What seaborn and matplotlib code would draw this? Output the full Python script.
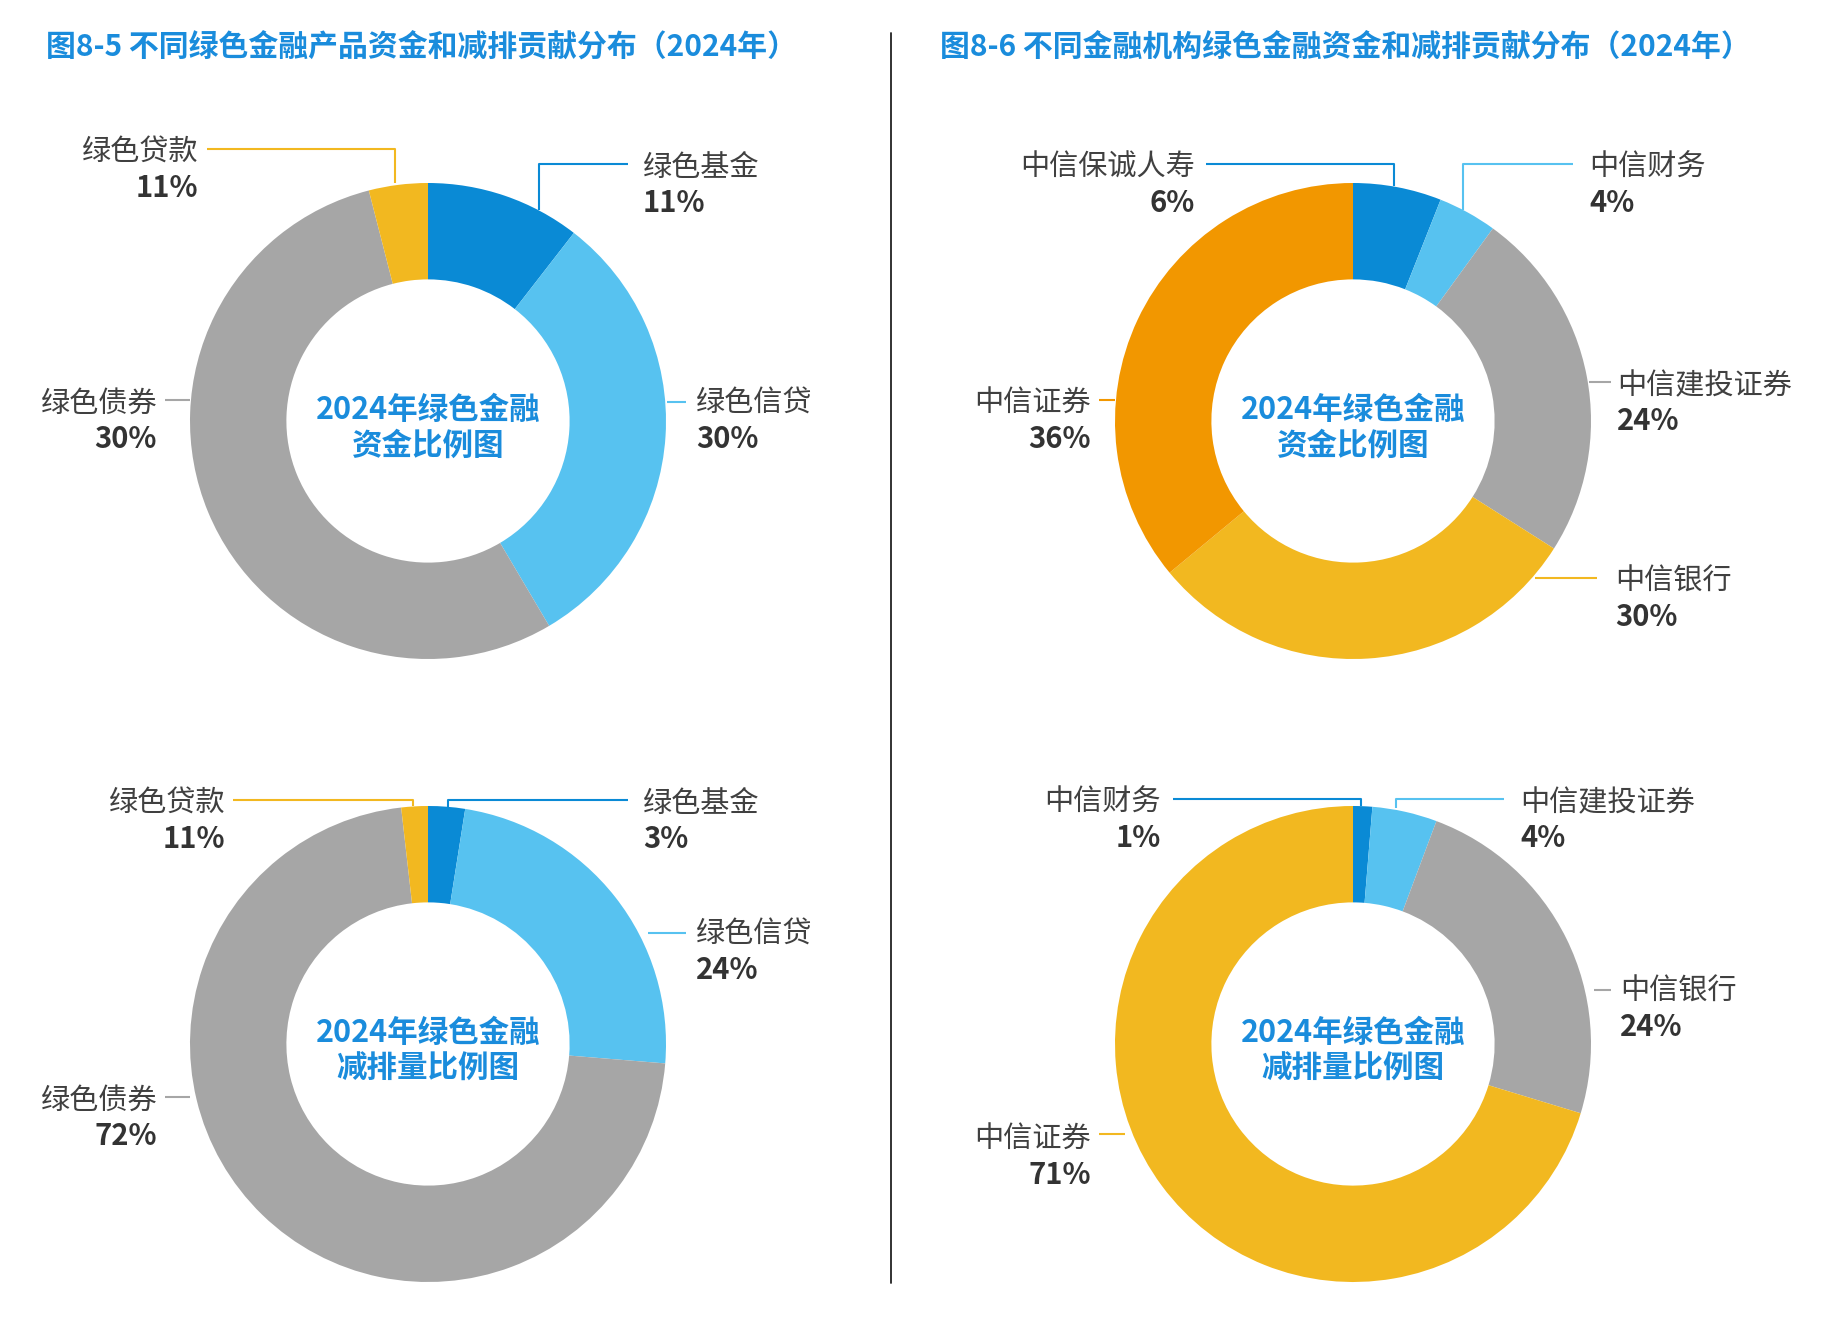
import matplotlib
matplotlib.use('Agg')
import matplotlib.pyplot as plt
import seaborn as sns

sns.set_theme(style='white')
plt.rcParams['font.family'] = ['Noto Sans CJK SC', 'DejaVu Sans']

# ---- data ----
titles = ['图8-5 不同绿色金融产品资金和减排贡献分布（2024年）',
          '图8-6 不同金融机构绿色金融资金和减排贡献分布（2024年）']

product_names = ['绿色基金', '绿色信贷', '绿色债券', '绿色贷款']
fund_shares = [10.5, 31.0, 54.5, 4.0]            # slice sizes as drawn
fund_labels = ['11%', '30%', '30%', '11%']       # labels as printed
cut_shares = [2.5, 23.8, 71.9, 1.8]
cut_labels = ['3%', '24%', '72%', '11%']

inst_fund_names = ['中信保诚人寿', '中信财务', '中信建投证券', '中信银行', '中信证券']
inst_fund_shares = [6, 4, 24, 30, 36]
inst_fund_labels = ['6%', '4%', '24%', '30%', '36%']

inst_cut_names = ['中信财务', '中信建投证券', '中信银行', '中信证券']
inst_cut_shares = [1.3, 4.4, 24, 70.3]
inst_cut_labels = ['1%', '4%', '24%', '71%']

center_texts = ['2024年绿色金融\n资金比例图', '2024年绿色金融\n减排量比例图']

DBLUE, LBLUE, GREY, YELLOW, ORANGE = '#0a8ad5', '#57c2f0', '#a6a6a6', '#f2b820', '#f29700'
TITLE_BLUE = '#1a8cdc'
product_colors = [DBLUE, LBLUE, GREY, YELLOW]
inst_fund_colors = [DBLUE, LBLUE, GREY, YELLOW, ORANGE]
inst_cut_colors = [DBLUE, LBLUE, GREY, YELLOW]

# ---- layout (pixels in a 1824x1320 canvas) ----
W, H = 1824, 1320
R = 238
centers = [(428, 421), (1353, 421), (428, 1044), (1353, 1044)]

# per slice: text x, name y, ha, leader path
layouts = [
    [(643, 164, 'left', [(628, 164), (539, 164), (539, 210)]),
     (696, 400, 'left', [(667, 402), (686, 402)]),
     (157, 400, 'right', [(165, 400), (190, 400)]),
     (198, 149, 'right', [(207, 149), (395, 149), (395, 183)])],
    [(1195, 164, 'right', [(1206, 164), (1394, 164), (1394, 186)]),
     (1589, 164, 'left', [(1573, 164), (1463, 164), (1463, 210)]),
     (1617, 382, 'left', [(1589, 382), (1611, 382)]),
     (1615, 578, 'left', [(1535, 578), (1597, 578)]),
     (1091, 400, 'right', [(1099, 400), (1115, 400)])],
    [(643, 800, 'left', [(628, 800), (448, 800), (448, 807)]),
     (696, 931, 'left', [(648, 933), (686, 933)]),
     (157, 1097, 'right', [(165, 1097), (190, 1097)]),
     (225, 800, 'right', [(233, 800), (413, 800), (413, 806)])],
    [(1161, 799, 'right', [(1173, 799), (1361, 799), (1361, 806)]),
     (1520, 799, 'left', [(1504, 799), (1396, 799), (1396, 808)]),
     (1620, 988, 'left', [(1594, 990), (1611, 990)]),
     (1091, 1136, 'right', [(1099, 1134), (1125, 1134)])],
]

charts = [
    (product_names, fund_shares, fund_labels, product_colors, center_texts[0]),
    (inst_fund_names, inst_fund_shares, inst_fund_labels, inst_fund_colors, center_texts[0]),
    (product_names, cut_shares, cut_labels, product_colors, center_texts[1]),
    (inst_cut_names, inst_cut_shares, inst_cut_labels, inst_cut_colors, center_texts[1]),
]

fig = plt.figure(figsize=(W / 100, H / 100), dpi=100)
fig.patch.set_facecolor('white')

ov = fig.add_axes([0, 0, 1, 1])
ov.set_xlim(0, W)
ov.set_ylim(H, 0)
ov.axis('off')

# titles and divider
ov.text(46, 48, titles[0], color=TITLE_BLUE, fontsize=21.5, fontweight='bold', va='center', ha='left')
ov.text(940, 48, titles[1], color=TITLE_BLUE, fontsize=21.5, fontweight='bold', va='center', ha='left')
ov.plot([891, 891], [33, 1283], color='#222222', lw=1.3)

for (names, shares, labels, colors, ctext), (cx, cy), lay in zip(charts, centers, layouts):
    ax = fig.add_axes([(cx - R) / W, 1 - (cy + R) / H, 2 * R / W, 2 * R / H])
    ax.pie(shares, colors=colors, startangle=90, counterclock=False, radius=1,
           wedgeprops=dict(width=0.405, linewidth=0))
    ax.set_xlim(-1, 1)
    ax.set_ylim(-1, 1)
    ax.axis('off')
    ax.text(0, -0.03, ctext, ha='center', va='center', color=TITLE_BLUE,
            fontsize=22, fontweight='bold', linespacing=1.15)

    for name, lab, col, (tx, ty, ha, path) in zip(names, labels, colors, lay):
        xs = [p[0] for p in path]
        ys = [p[1] for p in path]
        ov.plot(xs, ys, color=col, lw=1.5, solid_capstyle='butt')
        ov.text(tx, ty + 4, name, ha=ha, va='center', color='#404040', fontsize=21, fontweight='medium')
        ov.text(tx, ty + 39, lab, ha=ha, va='center', color='#333333', fontsize=21, fontweight='bold')

fig.savefig('out.png', dpi=100, facecolor='white')
